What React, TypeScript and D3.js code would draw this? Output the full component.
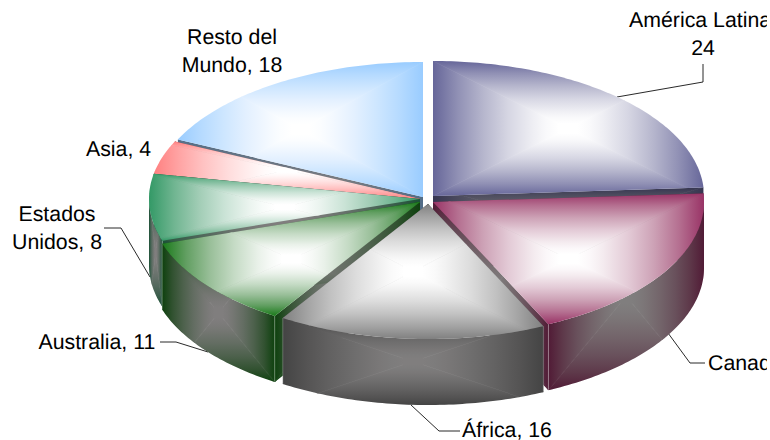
import React from "react";
import * as d3 from "d3";

const categories = ["América Latina", "Canadá", "África", "Australia", "Estados Unidos", "Asia", "Resto del Mundo"];
const values = [24, 19, 16, 11, 8, 4, 18];
const topColors = ["#666699", "#993366", "#808080", "#1a7a1a", "#339966", "#ff8080", "#99ccff"];

// Explosion of each slice: its own apex on screen
const apexX = [433, 433, 428, 420, 420, 420, 423];
const apexY = [196, 202, 204, 202, 199, 199, 197];
const RX = 271, RY = 135, DEPTH = 66;
const paintOrder = [6, 0, 5, 4, 1, 3, 2];

type P = [number, number];
const labelLines: { lines: string[]; x: number; y: number; anchor: string }[] = [
  { lines: ["América Latina,", "24"], x: 703, y: 27, anchor: "middle" },
  { lines: ["Canadá, 19"], x: 708, y: 370, anchor: "start" },
  { lines: ["África, 16"], x: 462, y: 436.5, anchor: "start" },
  { lines: ["Australia, 11"], x: 38.5, y: 349, anchor: "start" },
  { lines: ["Estados", "Unidos, 8"], x: 57, y: 221, anchor: "middle" },
  { lines: ["Asia, 4"], x: 86, y: 156, anchor: "start" },
  { lines: ["Resto del", "Mundo, 18"], x: 232, y: 44, anchor: "middle" },
];
const leaders: P[][] = [
  [[617, 97], [703, 82], [703, 64]],
  [[668, 333], [690, 363], [705, 363]],
  [[411, 405], [439, 431], [460, 431]],
  [[160, 342], [176, 342], [208, 352]],
  [[104, 228], [121, 228], [150, 277]],
];

const line = d3.line<P>();
const pieGen = d3.pie<number>().sort(null).startAngle(0).endAngle(2 * Math.PI);
const arcs = pieGen(values);

const ell = (i: number, t: number, dy = 0): P => [
  apexX[i] + RX * Math.sin(t),
  apexY[i] - RY * Math.cos(t) + dy,
];
const sample = (i: number, a: number, b: number, dy = 0): P[] => {
  const n = Math.max(2, Math.ceil(Math.abs(b - a) * 60));
  return d3.range(n + 1).map((k) => ell(i, a + ((b - a) * k) / n, dy));
};
const stopOffsets = [0, 0.2, 0.4, 0.6, 0.8, 0.9, 1];
const FOCUS = 0.07;

function RectGrad({ id, pts, edge, center }: { id: string; pts: P[]; edge: string; center: string }) {
  const x0 = d3.min(pts, (p) => p[0])!, x1 = d3.max(pts, (p) => p[0])!;
  const y0 = d3.min(pts, (p) => p[1])!, y1 = d3.max(pts, (p) => p[1])!;
  const cx = (x0 + x1) / 2, cy = (y0 + y1) / 2;
  const fx = ((x1 - x0) / 2) * FOCUS, fy = ((y1 - y0) / 2) * FOCUS;
  const [ax, bx, ay, by] = [cx - fx, cx + fx, cy - fy, cy + fy];
  const mix = d3.interpolateRgb.gamma(1.25)(edge, center);
  const ease = (t: number) => 1 - Math.pow(1 - t, 1.35);
  const tris: { key: string; poly: P[]; g: number[] }[] = [
    { key: "t", poly: [[x0, y0], [x1, y0], [bx, ay], [ax, ay]], g: [0, y0, 0, ay] },
    { key: "b", poly: [[x0, y1], [x1, y1], [bx, by], [ax, by]], g: [0, y1, 0, by] },
    { key: "l", poly: [[x0, y0], [x0, y1], [ax, by], [ax, ay]], g: [x0, 0, ax, 0] },
    { key: "r", poly: [[x1, y0], [x1, y1], [bx, by], [bx, ay]], g: [x1, 0, bx, 0] },
  ];
  return (
    <g>
      <defs>
        <clipPath id={`c-${id}`}>
          <path d={line(pts)! + "Z"} />
        </clipPath>
        {tris.map((t) => (
          <linearGradient key={t.key} id={`g-${id}-${t.key}`} gradientUnits="userSpaceOnUse"
            x1={t.g[0]} y1={t.g[1]} x2={t.g[2]} y2={t.g[3]}>
            {stopOffsets.map((o) => <stop key={o} offset={o} stopColor={mix(ease(o))} />)}
          </linearGradient>
        ))}
      </defs>
      <g clipPath={`url(#c-${id})`}>
        <rect x={ax - 1} y={ay - 1} width={bx - ax + 2} height={by - ay + 2} fill={center} />
        {tris.map((t) => (
          <path key={t.key} d={line(t.poly)! + "Z"} fill={`url(#g-${id}-${t.key})`}
            stroke={`url(#g-${id}-${t.key})`} strokeWidth={0.7} />
        ))}
      </g>
    </g>
  );
}

const shade = (c: string, k: number) => {
  const r = d3.rgb(c);
  return d3.rgb(r.r * k, r.g * k, r.b * k).formatHex();
};

function Slice({ i }: { i: number }) {
  const { startAngle: a, endAngle: b } = arcs[i];
  const apex: P = [apexX[i], apexY[i]];
  const apexLow: P = [apex[0], apex[1] + DEPTH];
  const c = topColors[i];
  const side = shade(c, 0.53);
  const sideCenter = "#807e7e";
  const topPts: P[] = [apex, ...sample(i, a, b)];
  const quad = (t: number): P[] => [apex, ell(i, t), ell(i, t, DEPTH), apexLow];
  const wa = Math.max(a, Math.PI / 2), wb = Math.min(b, (3 * Math.PI) / 2);
  const wallPts: P[] | null = wb > wa
    ? [...sample(i, wa, wb), ...sample(i, wb, wa, DEPTH)]
    : null;
  const edgeLine = (t: number) => [ell(i, t), ell(i, t, DEPTH)] as P[];
  return (
    <g>
      <RectGrad id={`q0-${i}`} pts={quad(a)} edge={side} center={sideCenter} />
      <RectGrad id={`q1-${i}`} pts={quad(b)} edge={side} center={sideCenter} />
      {wallPts && <RectGrad id={`w-${i}`} pts={wallPts} edge={side} center={sideCenter} />}
      {wallPts && a > Math.PI / 2 && <path d={line(edgeLine(a))!} stroke="#fff" strokeOpacity={0.35} strokeWidth={0.7} />}
      {wallPts && b < (3 * Math.PI) / 2 && <path d={line(edgeLine(b))!} stroke="#fff" strokeOpacity={0.35} strokeWidth={0.7} />}
      <RectGrad id={`t-${i}`} pts={topPts} edge={c} center="#ffffff" />
    </g>
  );
}

export default function App() {
  return (
    <svg width={767} height={440} viewBox="0 0 767 440"
      style={{ position: "absolute", left: 0, top: 0, background: "#fff" }}>
      {leaders.map((l, i) => (
        <path key={i} d={line(l)!} fill="none" stroke="#111" strokeWidth={0.9} />
      ))}
      {paintOrder.map((i) => <Slice key={i} i={i} />)}
      {labelLines.map((l, i) => (
        <text key={i} x={l.x} y={l.y} textAnchor={l.anchor} fontFamily="'Liberation Sans', Arial, sans-serif"
          fontSize={21.3} fill="#000" style={{ textRendering: "geometricPrecision" }}>
          {l.lines.map((s, k) => (
            <tspan key={k} x={l.x} dy={k === 0 ? 0 : 27.5}>{s}</tspan>
          ))}
        </text>
      ))}
      <title>{categories.join(", ")}</title>
    </svg>
  );
}
